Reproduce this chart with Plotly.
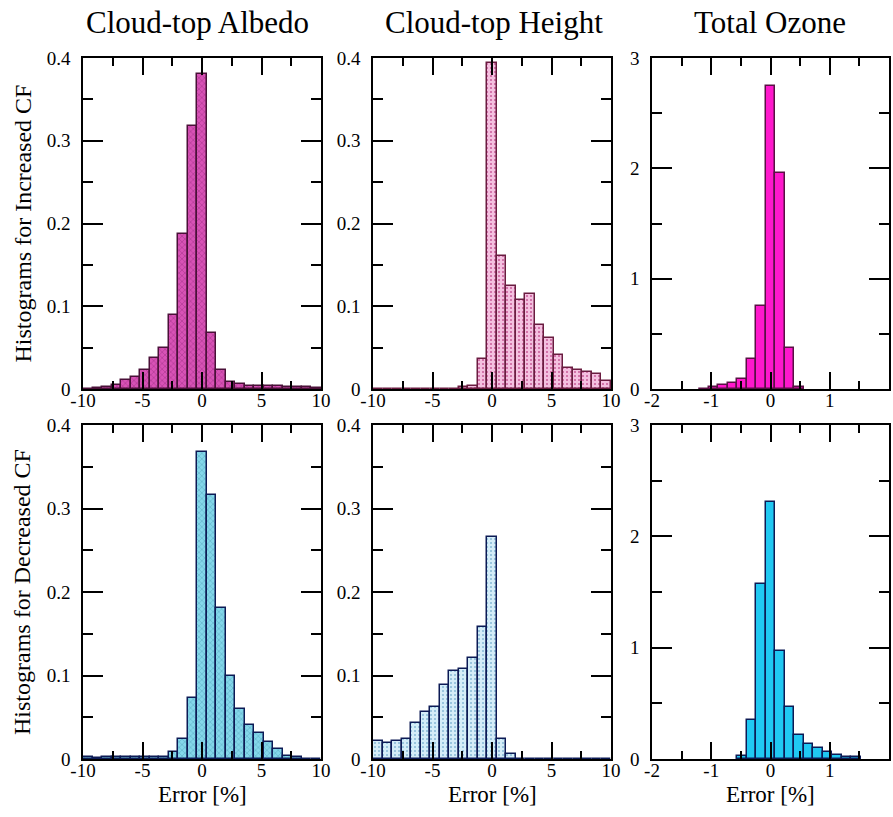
import plotly.graph_objects as go
from plotly.subplots import make_subplots

# ---------------- data ----------------
col_titles = ["Cloud-top Albedo", "Cloud-top Height", "Total Ozone"]
row_titles = ["Histograms for Increased CF", "Histograms for Decreased CF"]
x_title = "Error [%]"

# bin centres (bin width 0.8 %) for albedo / height panels
bins_wide = [-9.6, -8.8, -8.0, -7.2, -6.4, -5.6, -4.8, -4.0, -3.2, -2.4, -1.6, -0.8,
             0.0, 0.8, 1.6, 2.4, 3.2, 4.0, 4.8, 5.6, 6.4, 7.2, 8.0, 8.8, 9.6]
# bin centres (bin width 0.16 %) for ozone panels
bins_oz_inc = [-1.12, -0.96, -0.80, -0.64, -0.48, -0.32, -0.16, 0.0, 0.16, 0.32, 0.48]
bins_oz_dec = [-0.48, -0.32, -0.16, 0.0, 0.16, 0.32, 0.48, 0.64, 0.80, 0.96, 1.12, 1.28, 1.44]

albedo_inc = [0.0, 0.001, 0.003, 0.005, 0.0105, 0.0145, 0.023, 0.0375, 0.0496, 0.090, 0.187, 0.318,
              0.381, 0.068, 0.0226, 0.0085, 0.006, 0.004, 0.004, 0.0035, 0.0035, 0.003, 0.002, 0.002, 0.0015]
height_inc = [0.0, 0.0, 0.0, 0.0, 0.0, 0.0, 0.0, 0.0, 0.0, 0.002, 0.004, 0.036,
              0.394, 0.161, 0.124, 0.107, 0.115, 0.077, 0.062, 0.041, 0.025, 0.023, 0.021, 0.018, 0.010]
ozone_inc = [0.004, 0.015, 0.036, 0.054, 0.094, 0.27, 0.75, 2.75, 1.96, 0.37, 0.015]

albedo_dec = [0.002, 0.001, 0.002, 0.002, 0.002, 0.002, 0.002, 0.002, 0.002, 0.0088, 0.0236, 0.0735,
              0.368, 0.316, 0.181, 0.0996, 0.060, 0.041, 0.0315, 0.020, 0.0116, 0.004, 0.002, 0.0, 0.0]
height_dec = [0.0216, 0.0196, 0.0216, 0.0236, 0.0427, 0.0559, 0.0619, 0.0886, 0.1058, 0.1078, 0.121, 0.158,
              0.266, 0.0236, 0.006, 0.0, 0.0, 0.0, 0.0, 0.0, 0.0, 0.0, 0.0, 0.0, 0.0]
ozone_dec = [0.03, 0.354, 1.57, 2.31, 0.974, 0.469, 0.22, 0.133, 0.103, 0.06, 0.036, 0.015, 0.015]

x_ticks_wide = [-10, -5, 0, 5, 10]
x_ticks_wide_text = ["-10", "-5", "0", "5", "10"]
x_minor_wide = [-7.5, -2.5, 2.5, 7.5]
x_ticks_oz = [-2, -1, 0, 1, 2]
x_ticks_oz_text = ["-2", "-1", "0", "1", "2"]
x_minor_oz = [-1.5, -0.5, 0.5, 1.5]
y_ticks_frac = [0, 0.1, 0.2, 0.3, 0.4]
y_ticks_frac_text = ["0", "0.1", "0.2", "0.3", "0.4"]
y_minor_frac = [0.05, 0.15, 0.25, 0.35]
y_ticks_oz = [0, 1, 2, 3]
y_ticks_oz_text = ["0", "1", "2", "3"]
y_minor_oz = [0.5, 1.5, 2.5]

# ---------------- figure ----------------
W, H = 893, 817
FONT = "'Liberation Serif', 'Times New Roman', 'DejaVu Serif', serif"

fig = make_subplots(rows=2, cols=3)

panels = [
    # row, col, x, y, width, fill, pattern fg, edge, pattern shape
    (1, 1, bins_wide, albedo_inc, 0.8, "#d852b6", "#9a2c80", "#4a1038", "x"),
    (1, 2, bins_wide, height_inc, 0.8, "#f4c0e0", "#c85a98", "#6a1c40", "."),
    (1, 3, bins_oz_inc, ozone_inc, 0.16, "#ff18cc", None, "#5a1045", None),
    (2, 1, bins_wide, albedo_dec, 0.8, "#84d8ea", "#4f9fb8", "#0c1a55", "x"),
    (2, 2, bins_wide, height_dec, 0.8, "#d4edf8", "#86b8d6", "#0c1a55", "."),
    (2, 3, bins_oz_dec, ozone_dec, 0.16, "#20c8f2", None, "#0c1a55", None),
]

for r, c, xs, ys, w, fill, fg, edge, shape in panels:
    marker = dict(color=fill, line=dict(color=edge, width=1.5))
    if shape is not None:
        marker["pattern"] = dict(shape=shape, fgcolor=fg, bgcolor=fill, size=4,
                                 solidity=0.2, fillmode="replace")
    fig.add_trace(go.Bar(x=xs, y=ys, width=w, marker=marker, showlegend=False,
                         hoverinfo="skip"), row=r, col=c)

# pixel layout of panels
col_px = [(83, 321), (373, 611), (652, 889)]
row_px = [(58, 389), (425, 759)]
title_cx = [197, 494, 770]

axis_common = dict(showline=True, linecolor="black", linewidth=1.5, mirror="allticks",
                   ticks="inside", tickcolor="black", tickwidth=1.5, showgrid=False,
                   zeroline=False, automargin=False,
                   tickfont=dict(family=FONT, size=19, color="black"))

for r in range(2):
    for c in range(3):
        idx = r * 3 + c + 1
        xa = "xaxis" if idx == 1 else f"xaxis{idx}"
        ya = "yaxis" if idx == 1 else f"yaxis{idx}"
        x0, x1 = col_px[c]
        y0, y1 = row_px[r]
        if c < 2:
            xrng, xtv, xtt, xmin = [-10, 10], x_ticks_wide, x_ticks_wide_text, x_minor_wide
            yrng, ytv, ytt, ymin = [0, 0.4], y_ticks_frac, y_ticks_frac_text, y_minor_frac
        else:
            xrng, xtv, xtt, xmin = [-2, 2], x_ticks_oz, x_ticks_oz_text, x_minor_oz
            yrng, ytv, ytt, ymin = [0, 3], y_ticks_oz, y_ticks_oz_text, y_minor_oz
        fig.layout[xa].update(domain=[x0 / W, x1 / W], range=xrng, tickmode="array",
                              tickvals=xtv, ticktext=xtt, ticklen=17, ticklabelstandoff=-7,
                              minor=dict(tickvals=xmin, ticks="inside", ticklen=8,
                                         tickcolor="black", tickwidth=1.5),
                              **axis_common)
        fig.layout[ya].update(domain=[1 - y1 / H, 1 - y0 / H], range=yrng, tickmode="array",
                              tickvals=ytv, ticktext=ytt, ticklen=20, ticklabelstandoff=7,
                              minor=dict(tickvals=ymin, ticks="inside", ticklen=10,
                                         tickcolor="black", tickwidth=1.5),
                              **axis_common)

annotations = []
for c, t in enumerate(col_titles):
    cx = (col_px[c][0] + col_px[c][1]) / 2
    annotations.append(dict(text=t, x=title_cx[c] / W, y=1 - 22 / H, xref="paper", yref="paper",
                            showarrow=False, xanchor="center", yanchor="middle",
                            font=dict(family=FONT, size=31, color="black")))
    annotations.append(dict(text=x_title, x=cx / W, y=1 - 794 / H, xref="paper", yref="paper",
                            showarrow=False, xanchor="center", yanchor="middle",
                            font=dict(family=FONT, size=23, color="black")))
for r, t in enumerate(row_titles):
    cy = (row_px[r][0] + row_px[r][1]) / 2
    annotations.append(dict(text=t, x=22 / W, y=1 - cy / H, xref="paper", yref="paper",
                            showarrow=False, xanchor="center", yanchor="middle", textangle=-90,
                            font=dict(family=FONT, size=24, color="black")))

fig.update_layout(width=W, height=H, margin=dict(l=0, r=0, t=0, b=0),
                  paper_bgcolor="white", plot_bgcolor="white", bargap=0,
                  font=dict(family=FONT, color="black"), hovermode=False,
                  annotations=annotations, showlegend=False)

fig.write_html("out.html", config={"displayModeBar": False},
               post_script="document.body.style.margin='0';document.body.style.overflow='hidden';")
